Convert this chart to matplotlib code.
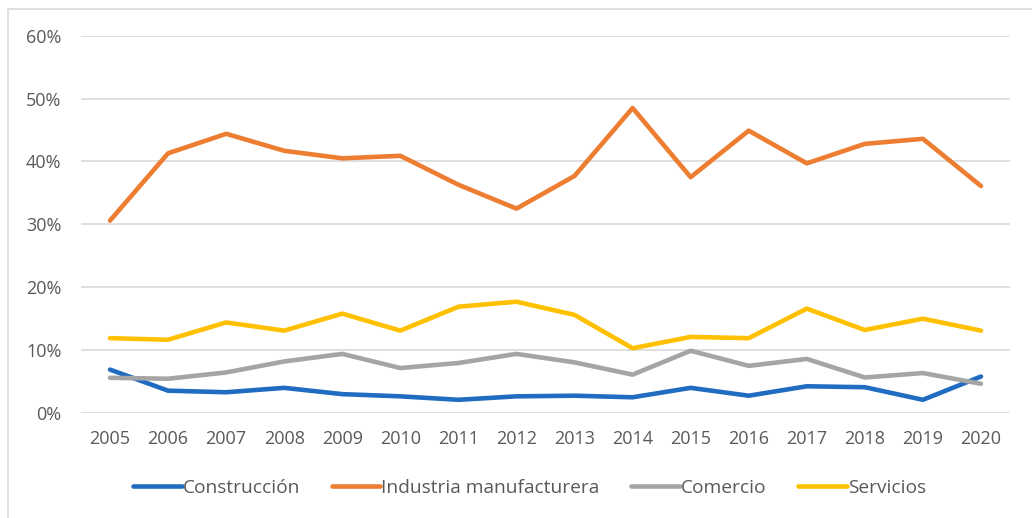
import numpy as np
from matplotlib import pyplot as plt
from matplotlib.ticker import PercentFormatter
from matplotlib.patches import Rectangle

years = list(range(2005, 2021))
construccion = [6.9, 3.55, 3.3, 4.0, 3.0, 2.65, 2.1, 2.65, 2.75, 2.5, 4.0, 2.75, 4.25, 4.1, 2.1, 5.8]
industria = [30.6, 41.3, 44.4, 41.7, 40.5, 40.9, 36.3, 32.5, 37.7, 48.5, 37.5, 44.9, 39.7, 42.8, 43.6, 36.1]
comercio = [5.6, 5.45, 6.45, 8.2, 9.4, 7.15, 7.95, 9.4, 8.05, 6.1, 9.9, 7.5, 8.6, 5.65, 6.35, 4.65]
servicios = [11.9, 11.65, 14.4, 13.1, 15.8, 13.1, 16.9, 17.7, 15.6, 10.3, 12.1, 11.9, 16.6, 13.2, 15.0, 13.1]

series = [
    ('Construcción', construccion, '#1F6CC0'),
    ('Industria manufacturera', industria, '#ED7D31'),
    ('Comercio', comercio, '#A5A5A5'),
    ('Servicios', servicios, '#FFC000'),
]

plt.rcParams['font.family'] = ['Open Sans', 'DejaVu Sans']
plt.rc('font', size=13)

fig = plt.figure(figsize=(10.32, 5.18), dpi=100)
# light chart frame, only left/top edges fall inside the canvas
fig.patches.append(Rectangle((8 / 1032, -0.05), 1.2, 1 - 9 / 518 + 0.05,
                             transform=fig.transFigure, fill=False,
                             edgecolor='#D9D9D9', linewidth=1.2))

ax = fig.add_axes([81 / 1032, 1 - 413 / 518, 929 / 1032, (413 - 35.7) / 518])
for name, vals, color in series:
    ax.plot(years, vals, color=color, linewidth=3.3, label=name,
            solid_capstyle='round', solid_joinstyle='round', zorder=3)

ax.set_xlim(2004.5, 2020.5)
ax.set_ylim(0, 60)
ax.set_xticks(years)
ax.set_yticks(np.arange(0, 61, 10))
ax.yaxis.set_major_formatter(PercentFormatter(decimals=0))
ax.grid(True, axis='y', color='#D9D9D9', linewidth=1.2)
ax.set_axisbelow(True)
for s in ax.spines.values():
    s.set_visible(False)
ax.tick_params(axis='both', length=0, colors='#595959', labelsize=13)
ax.tick_params(axis='y', pad=14)
ax.tick_params(axis='x', pad=12)

fig.legend(loc='center', bbox_to_anchor=(0.513, 1 - 488 / 518), ncol=4,
           frameon=False, handlelength=2.55, handletextpad=0.05,
           columnspacing=1.65, labelcolor='#595959', fontsize=13.8)

plt.savefig('out.png', dpi=100)
